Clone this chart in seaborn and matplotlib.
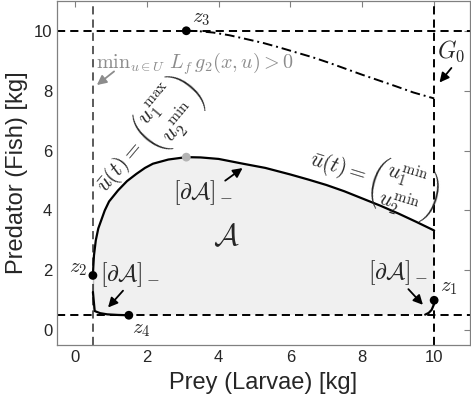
import numpy as np
import matplotlib
matplotlib.use("Agg")
import matplotlib.pyplot as plt
import seaborn as sns

# boundary of the admissible set A (upper part, u = (u1max,u2min) then (u1min,u2min))
top_x = [0.5, 0.51, 0.53, 0.58, 0.65, 0.83, 0.95, 1.2, 1.45, 1.71, 1.95, 2.17, 2.6, 3.1,
         3.5, 4.0, 4.68, 5.3, 6.0, 6.5, 7.0, 7.5, 8.0, 8.5, 9.0, 9.5, 10.0]
top_y = [1.83, 2.1, 2.5, 3.0, 3.4, 4.0, 4.3, 4.67, 4.98, 5.22, 5.42, 5.56, 5.7, 5.78,
         5.77, 5.72, 5.56, 5.42, 5.2, 5.03, 4.85, 4.64, 4.4, 4.16, 3.9, 3.62, 3.33]

# lower-left corner piece z2 -> z4
ll_x = [0.5, 0.5, 0.55, 0.7, 0.9, 1.2, 1.5]
ll_y = [1.83, 0.72, 0.64, 0.57, 0.53, 0.51, 0.5]

# lower-right corner piece z1 -> bottom
lr_x = [10.0, 9.98, 9.93, 9.85, 9.75]
lr_y = [1.0, 0.82, 0.68, 0.58, 0.52]

# G0 curve (dash-dot)
g0_x = [3.1, 3.4, 3.85, 4.3, 4.78, 5.25, 5.7, 6.15, 6.63, 7.1, 7.56, 8.0, 8.49, 8.95, 9.42, 10.0]
g0_y = [10.0, 9.99, 9.94, 9.85, 9.72, 9.59, 9.44, 9.28, 9.11, 8.92, 8.72, 8.53, 8.33, 8.14, 7.94, 7.74]

# points z1..z4 and top of A
pt_names = ["z1", "z2", "z3", "z4"]
pt_x = [10.0, 0.5, 3.1, 1.5]
pt_y = [1.0, 1.83, 10.0, 0.5]
peak_x, peak_y = 3.1, 5.78

x_min, x_max = 0.5, 10.0
y_min, y_max = 0.5, 10.0

sns.set_style("white")
plt.rcParams["font.family"] = ["Liberation Sans", "DejaVu Sans"]
plt.rcParams["mathtext.fontset"] = "cm"

fig = plt.figure(figsize=(4.71, 4.09), dpi=100)
ax = fig.add_axes([0.121, 0.156, 0.877, 0.842])

# shaded set A
fx = np.concatenate([top_x, [10.0], lr_x, [1.5], ll_x[::-1]])
fy = np.concatenate([top_y, [3.33], lr_y, [0.5], ll_y[::-1]])
ax.fill(fx, fy, color="#f0f0f0", lw=0, zorder=0)

dash = (0, (4.2, 2.6))
ax.axvline(x_min, color="#5a5a5a", lw=1.4, ls=dash, zorder=1)
ax.axvline(x_max, color="black", lw=1.4, ls=dash, zorder=1)
ax.axhline(y_min, color="black", lw=1.4, ls=dash, zorder=1)
ax.axhline(y_max, color="black", lw=1.4, ls=dash, zorder=1)

sns.lineplot(x=top_x, y=top_y, sort=False, color="black", lw=1.6, ax=ax, zorder=3)
sns.lineplot(x=ll_x, y=ll_y, sort=False, color="black", lw=1.6, ax=ax, zorder=3)
sns.lineplot(x=lr_x, y=lr_y, sort=False, color="black", lw=1.6, ax=ax, zorder=3)
sns.lineplot(x=g0_x, y=g0_y, sort=False, color="black", lw=1.4, ax=ax, zorder=3,
             linestyle=(0, (5, 2, 1, 2)))

sns.scatterplot(x=pt_x, y=pt_y, color="black", s=40, edgecolor="none", ax=ax, zorder=5)
sns.scatterplot(x=[peak_x], y=[peak_y], color="#b4b4b4", s=40, edgecolor="none", ax=ax, zorder=5)

arrow = dict(arrowstyle="-|>", color="black", lw=1.3, mutation_scale=14)

ms = 15
ax.text(3.25, 10.08, "$z_3$", fontsize=ms, ha="left", va="bottom")
ax.text(0.35, 2.05, "$z_2$", fontsize=ms, ha="right", va="center")
ax.text(1.6, 0.35, "$z_4$", fontsize=ms, ha="left", va="top")
ax.text(10.15, 1.1, "$z_1$", fontsize=ms, ha="left", va="bottom")

ax.text(0.58, 8.9, r"$\mathrm{min}_{u\in U}\ L_f\, g_2(x,u) > 0$", fontsize=14.5,
        color="#8c8c8c", ha="left", va="center")
ax.annotate("", xy=(0.55, 8.13), xytext=(1.15, 8.7),
            arrowprops=dict(arrow, color="#8c8c8c"))

ax.text(10.48, 9.3, "$G_0$", fontsize=17, ha="center", va="center")
ax.annotate("", xy=(10.1, 8.2), xytext=(10.53, 8.83), arrowprops=arrow)

ax.text(4.22, 3.1, r"$\mathcal{A}$", fontsize=22, ha="center", va="center")

ax.text(3.56, 4.61, r"$[\partial\mathcal{A}]_-$", fontsize=17, ha="center", va="center")
ax.annotate("", xy=(4.73, 5.47), xytext=(4.12, 4.94), arrowprops=arrow)

ax.text(1.55, 1.85, r"$[\partial\mathcal{A}]_-$", fontsize=17, ha="center", va="center")
ax.annotate("", xy=(0.87, 0.69), xytext=(1.39, 1.39), arrowprops=arrow)

ax.text(9.0, 1.94, r"$[\partial\mathcal{A}]_-$", fontsize=17, ha="center", va="center")
ax.annotate("", xy=(9.74, 0.78), xytext=(9.23, 1.44), arrowprops=arrow)

ax.text(2.03, 6.4, r"$\bar{u}(t) = \genfrac{(}{)}{0}{0}{u_1^{\max}}{u_2^{\min}}$",
        fontsize=16, rotation=50, ha="center", va="center", rotation_mode="anchor")
ax.text(8.3, 5.0, r"$\bar{u}(t) = \genfrac{(}{)}{0}{0}{u_1^{\min}}{u_2^{\min}}$",
        fontsize=15.5, rotation=-17, ha="center", va="center", rotation_mode="anchor")

ax.set_xlim(-0.5, 11)
ax.set_ylim(-0.5, 11)
ax.set_xticks([0, 2, 4, 6, 8, 10])
ax.set_yticks([0, 2, 4, 6, 8, 10])
ax.tick_params(direction="in", length=4, width=0.8, colors="#808080", labelcolor="#262626",
               labelsize=12, top=True, right=True)
for sp in ax.spines.values():
    sp.set_color("#808080")
    sp.set_linewidth(0.9)
ax.set_xlabel("Prey (Larvae) [kg]", fontsize=17, color="#262626", labelpad=5)
ax.set_ylabel("Predator (Fish) [kg]", fontsize=17, color="#262626", labelpad=4)

fig.savefig("out.png", dpi=100)
